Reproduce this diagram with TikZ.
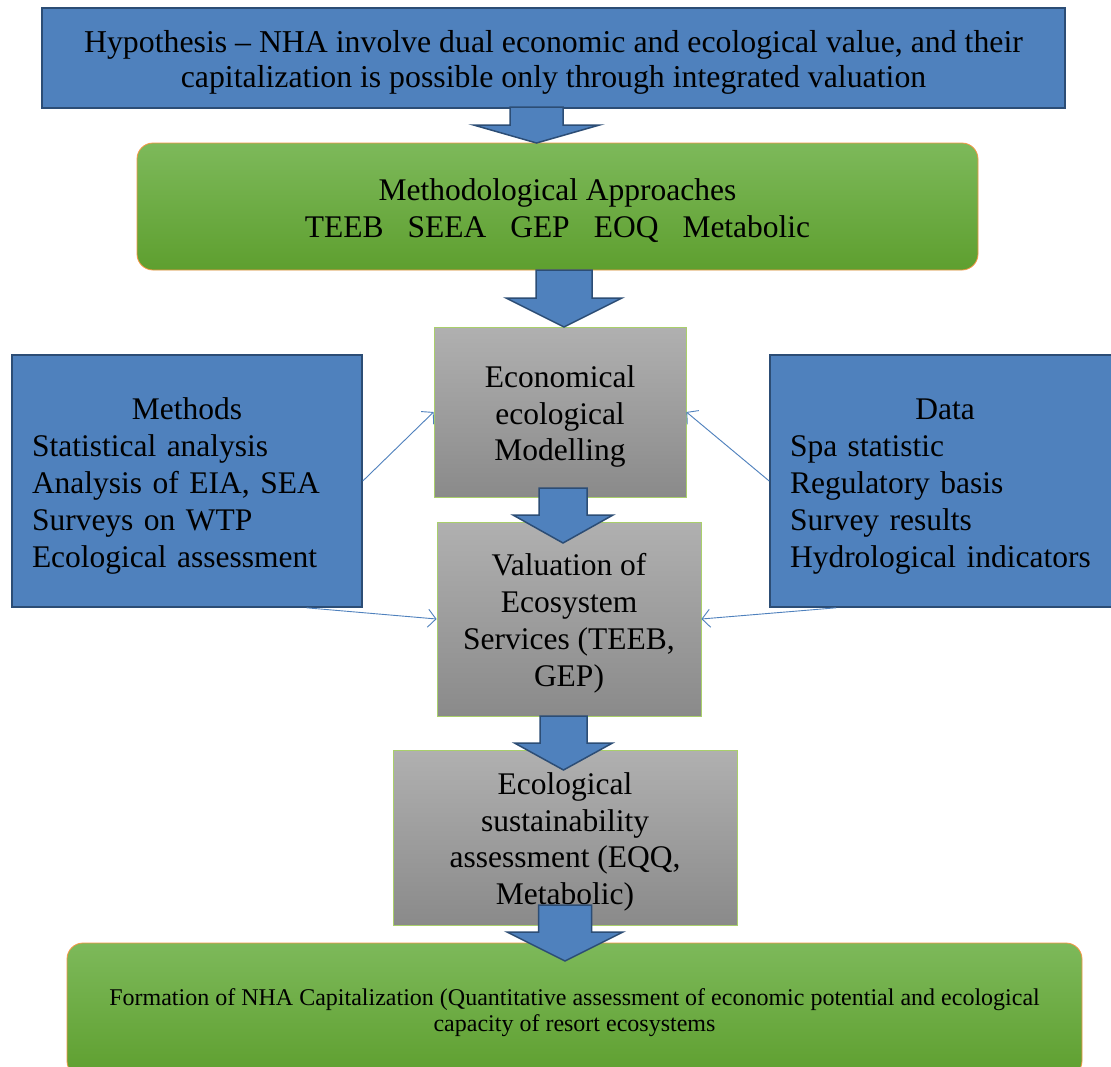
\documentclass[tikz,border=0pt]{standalone}
\usepackage{fontspec}
\setmainfont{Liberation Serif}
\usetikzlibrary{arrows.meta,calc}
\definecolor{blu}{HTML}{4F81BD}
\definecolor{bluedge}{HTML}{2C4D75}
\definecolor{grtop}{HTML}{7DB95A}
\definecolor{grbot}{HTML}{5E9F2F}
\definecolor{gredge}{HTML}{F79646}
\definecolor{gytop}{HTML}{B0B0B0}
\definecolor{gybot}{HTML}{8A8A8A}
\definecolor{gyedge}{HTML}{A9CF6B}
\newcommand{\blockarr}[6]{% cx, top, headtop, tip, shafthalf, headhalf
  \draw[blockarrow] (#1-#5,#2) -- (#1+#5,#2) -- (#1+#5,#3) -- (#1+#6,#3) -- (#1,#4)
    -- (#1-#6,#3) -- (#1-#5,#3) -- cycle;}
\newcommand{\dn}{\rule{0pt}{31pt}}
\begin{document}
\begin{tikzpicture}[x=1pt,y=-1pt,
  bigtext/.style={font=\fontsize{31.5}{36.5}\selectfont},
  bluebox/.style={draw=bluedge,line width=1.6pt,fill=blu,inner sep=0pt,bigtext},
  greenbox/.style={draw=gredge,line width=0.8pt,rounded corners=16pt,top color=grtop,bottom color=grbot,inner sep=0pt,align=center},
  graybox/.style={draw=gyedge,line width=0.8pt,top color=gytop,bottom color=gybot,inner sep=0pt,align=center,bigtext},
  blockarrow/.style={draw=bluedge,line width=1.5pt,fill=blu,line join=miter},
  thin/.style={draw=blu,line width=0.9pt,-{Straight Barb[length=8pt,width=18pt]}}
]
\useasboundingbox[fill=white] (0,0) rectangle (1111,1066);

\node[bluebox,minimum width=1023pt,minimum height=100pt,align=center,font=\fontsize{31.8}{35}\selectfont] (hyp) at (553.5,58)
  {\dn Hypothesis -- NHA involve dual economic and ecological value, and their\\capitalization is possible only through integrated valuation};

\node[greenbox,minimum width=841pt,minimum height=127pt,font=\fontsize{31.5}{37}\selectfont] (meth) at (557.5,206.5)
  {\dn Methodological Approaches\\TEEB\hspace{24pt}SEEA\hspace{24pt}GEP\hspace{24pt}EOQ\hspace{24pt}Metabolic};

\node[graybox,minimum width=252pt,minimum height=170pt] (econ) at (560,412)
  {\dn Economical\\ecological\\Modelling};

\node[bluebox,minimum width=350pt,minimum height=252pt,text width=310pt,align=left,font=\fontsize{31.5}{37}\selectfont] (methods) at (187,481)
  {\dn\makebox[\linewidth]{Methods}\\Statistical analysis\\Analysis of EIA, SEA\\Surveys on WTP\\Ecological assessment};

\node[bluebox,minimum width=350pt,minimum height=252pt,text width=310pt,align=left,font=\fontsize{31.5}{37}\selectfont] (data) at (945,481)
  {\dn\makebox[\linewidth]{Data}\\Spa statistic\\Regulatory basis\\Survey results\\Hydrological indicators};

\node[graybox,minimum width=264pt,minimum height=194pt,font=\fontsize{31.5}{37}\selectfont] (val) at (569,619)
  {\dn Valuation of\\Ecosystem\\Services (TEEB,\\GEP)};

\node[graybox,minimum width=344pt,minimum height=175pt,font=\fontsize{31.5}{36.5}\selectfont] (eco) at (565,837.5)
  {\dn Ecological\\sustainability\\assessment (EQQ,\\Metabolic)};

\node[greenbox,minimum width=1015pt,minimum height=134pt,font=\fontsize{24}{26}\selectfont] (form) at (574.5,1010)
  {\rule{0pt}{22pt}Formation of NHA Capitalization (Quantitative assessment of economic potential and ecological\\capacity of resort ecosystems};

% block arrows
\blockarr{536.5}{107}{125}{143}{26.5}{63}
\blockarr{564}{270}{298}{327}{28}{58}
\blockarr{563}{488}{515}{543}{24}{50}
\blockarr{563.5}{716}{743}{770}{23.5}{49}
\blockarr{565}{905}{932}{961}{26.5}{58}

% thin connectors
\draw[thin] (methods.east) -- (econ.west);
\draw[thin] (data.west) -- (econ.east);
\coordinate (mb) at ($(methods.south west)!0.84!(methods.south east)$);
\coordinate (db) at ($(data.south west)!0.19!(data.south east)$);
\draw[thin] (mb) -- (val.west);
\draw[thin] (db) -- (val.east);
\end{tikzpicture}
\end{document}
